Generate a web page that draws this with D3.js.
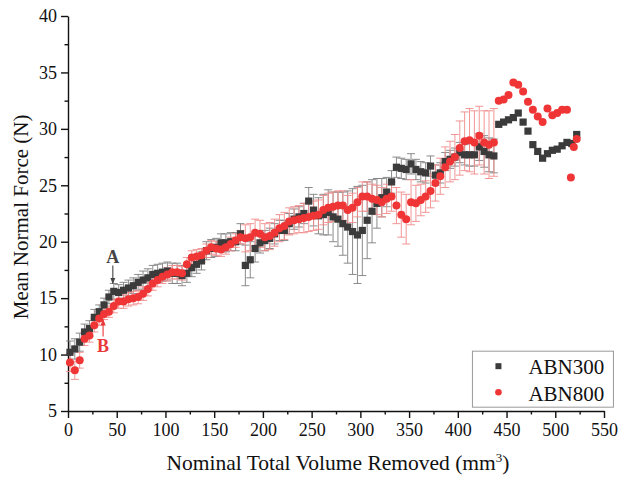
<!DOCTYPE html>
<html>
<head>
<meta charset="utf-8">
<script src="https://cdn.jsdelivr.net/npm/d3@7"></script>
<style>
  body { margin: 0; background: #fff; }
  svg, svg text { font-family: "Liberation Serif", "Times New Roman", serif; }
</style>
</head>
<body>
<figure id="chart" style="margin:0"></figure>
<script>
// ABN300 (squares)
const vol300 = [2,7,12,17,22,27,32,37,42,47,52,57,62,67,72,77,82,87,92,97,102,107,112,117,122,127,132,137,142,147,152,157,162,167,172,177,182,187,192,197,202,207,212,217,222,227,232,237,242,247,252,257,262,267,272,277,282,287,292,297,302,307,312,317,322,327,332,337,342,347,352,357,362,367,372,377,382,387,392,397,402,407,412,417,422,427,432,437,442,447,452,457,462,467,472,477,482,487,492,497,502,507,512,517,522];
const force300 = [10.2,10.5,11.1,12.0,12.3,13.3,13.8,14.4,15.1,15.6,15.5,15.7,15.9,16.1,16.4,16.6,16.8,17.1,17.2,17.3,17.4,17.2,17.2,17.0,17.2,17.7,18.0,18.3,19.2,19.4,19.5,19.9,19.9,20.0,20.0,20.7,17.9,18.4,19.4,19.9,20.1,20.3,20.7,21.0,21.0,21.6,22.0,22.2,22.5,23.6,22.8,22.3,22.4,22.6,22.2,22.0,21.6,21.3,20.9,20.6,21.0,21.9,22.7,23.4,23.9,24.4,25.3,26.6,26.5,26.4,26.9,26.4,26.2,26.1,26.7,25.9,26.1,27.1,27.3,27.5,27.9,27.7,27.7,27.7,28.4,28.0,27.7,27.6,30.4,30.6,30.8,31.0,31.4,30.6,29.8,28.6,28.0,27.4,27.8,28.1,28.2,28.5,28.8,28.7,29.5];
const err300 = [1.0,0.9,0.8,0.7,0.7,0.7,0.6,0.6,0.6,0.7,0.7,0.7,0.7,0.7,0.7,0.8,0.8,0.8,0.8,0.8,0.8,0.9,0.9,0.9,0.8,0.8,0.8,0.8,0.8,0.8,0.8,0.8,0.8,0.8,0.8,0.9,1.8,1.6,1.2,0.9,0.9,0.9,0.9,0.9,0.9,0.9,0.9,0.9,0.9,1.2,1.4,1.6,1.8,2.0,2.2,2.4,2.8,3.2,3.8,4.3,4.0,3.4,2.8,2.2,1.7,1.3,1.0,0.9,0.9,0.9,0.9,0.9,0.9,0.9,0.9,0.9,0.9,0.8,0.8,0.8,0.9,0.9,1.0,1.0,1.2,1.4,1.5,1.5,0,0,0,0,0,0,0,0,0,0,0,0,0,0,0,0,0];

// ABN800 (circles)
const vol800 = [2,7,12,17,22,27,32,37,42,47,52,57,62,67,72,77,82,87,92,97,102,107,112,117,122,127,132,137,142,147,152,157,162,167,172,177,182,187,192,197,202,207,212,217,222,227,232,237,242,247,252,257,262,267,272,277,282,287,292,297,302,307,312,317,322,327,332,337,342,347,352,357,362,367,372,377,382,387,392,397,402,407,412,417,422,427,432,437,442,447,452,457,462,467,472,477,482,487,492,497,502,507,512,516,519,522];
const force800 = [9.3,8.6,9.5,11.4,11.7,12.6,13.2,13.6,13.8,14.3,14.7,14.7,14.9,15.0,15.1,15.4,15.8,16.3,16.6,16.9,17.1,17.3,17.3,17.2,18.0,18.6,18.7,18.8,19.2,19.5,19.4,19.3,19.5,19.8,20.1,20.4,20.3,20.4,20.8,20.7,20.4,20.5,20.8,21.2,21.4,21.8,21.9,22.0,22.1,22.2,22.3,22.4,22.8,23.0,23.1,23.2,23.2,22.8,23.0,23.5,24.0,24.0,23.8,23.7,23.5,23.8,24.0,23.2,22.4,22.0,23.5,23.4,23.7,24.0,24.5,25.2,25.8,26.6,27.1,27.5,28.3,28.9,29.0,28.8,29.4,28.8,28.6,28.8,32.5,32.6,33.0,34.1,33.9,33.3,32.4,31.7,31.1,30.6,31.8,31.2,31.4,31.7,31.7,25.7,28.4,29.1];
const err800 = [0.8,0.8,0.7,0.6,0.6,0.6,0.6,0.5,0.5,0.6,0.6,0.6,0.6,0.6,0.6,0.6,0.6,0.6,0.6,0.6,0.6,0.6,0.6,0.6,0.6,0.6,0.6,0.6,0.6,0.6,0.6,0.6,0.6,0.6,0.6,0.6,1.2,1.2,1.2,1.2,1.2,1.2,1.2,1.2,1.2,1.2,1.2,1.2,1.3,1.3,1.3,1.3,1.3,1.3,1.3,1.3,1.3,1.3,1.3,1.3,1.3,1.3,1.3,1.3,1.3,1.3,1.3,1.6,2.0,2.2,2.0,1.6,1.4,1.4,1.5,1.6,1.6,1.8,1.8,2.0,2.4,2.6,2.8,2.8,2.6,2.8,3.0,3.0,0,0,0,0,0,0,0,0,0,0,0,0,0,0,0,0,0,0];

const xTicks = [0,50,100,150,200,250,300,350,400,450,500,550];
const yTicks = [5,10,15,20,25,30,35,40];
const seriesNames = ["ABN300", "ABN800"];

const FONT = '"Liberation Serif", "Times New Roman", serif';
const W = 631, H = 479;
const margin = { left: 68, right: 27, top: 16, bottom: 68 };
const width = W - margin.left - margin.right;
const height = H - margin.top - margin.bottom;

const svg = d3.select("figure#chart").append("svg")
  .attr("width", W).attr("height", H)
  .append("g")
  .attr("transform", "translate(" + margin.left + "," + margin.top + ")");

const x = d3.scaleLinear().domain([0, 550]).range([0, width]);
const y = d3.scaleLinear().domain([5, 40]).range([height, 0]);

// axes: major + minor ticks, outward
function minor(ticks) {
  const out = [];
  for (let i = 0; i < ticks.length - 1; i++) out.push((ticks[i] + ticks[i + 1]) / 2);
  return out;
}

svg.append("g")
  .attr("transform", "translate(0," + height + ")")
  .call(d3.axisBottom(x).tickValues(minor(xTicks)).tickSize(3.5).tickFormat(""))
  .call(g => g.select(".domain").remove());
const xAxis = svg.append("g")
  .attr("transform", "translate(0," + height + ")")
  .call(d3.axisBottom(x).tickValues(xTicks).tickSize(7).tickSizeOuter(0).tickPadding(5));

svg.append("g")
  .call(d3.axisLeft(y).tickValues(minor(yTicks)).tickSize(3.5).tickFormat(""))
  .call(g => g.select(".domain").remove());
const yAxis = svg.append("g")
  .call(d3.axisLeft(y).tickValues(yTicks).tickSize(7).tickSizeOuter(0).tickPadding(4));

svg.selectAll("g").attr("font-family", FONT);
xAxis.selectAll("text").attr("font-size", 18).attr("fill", "#111");
yAxis.selectAll("text").attr("font-size", 18).attr("fill", "#111");
svg.selectAll(".domain, .tick line").attr("stroke", "#111").attr("stroke-width", 1.4);

// axis titles
svg.append("text")
  .attr("x", width / 2 + 2)
  .attr("y", height + 59)
  .attr("text-anchor", "middle")
  .attr("font-family", FONT)
  .attr("font-size", 21.5)
  .attr("fill", "#111")
  .html('Nominal Total Volume Removed (mm<tspan dy="-8" font-size="13px">3</tspan><tspan dy="8">)</tspan>');

svg.append("text")
  .attr("transform", "rotate(-90)")
  .attr("x", -(y(22.2)))
  .attr("y", -40)
  .attr("text-anchor", "middle")
  .attr("font-family", FONT)
  .attr("font-size", 21)
  .attr("fill", "#111")
  .text("Mean Normal Force (N)");

const d300 = vol300.map((v, i) => ({ v: v, f: force300[i], e: err300[i] }));
const d800 = vol800.map((v, i) => ({ v: v, f: force800[i], e: err800[i] }));

// error bars
function errorBars(data, color) {
  const g = svg.append("g").attr("stroke", color).attr("stroke-width", 0.9).attr("fill", "none");
  const withErr = data.filter(d => d.e > 0);
  g.selectAll("path")
    .data(withErr)
    .join("path")
    .attr("d", d => `
      M${x(d.v)},${y(d.f + d.e)} V${y(d.f - d.e)}
      M${x(d.v) - 4},${y(d.f + d.e)} H${x(d.v) + 4}
      M${x(d.v) - 4},${y(d.f - d.e)} H${x(d.v) + 4}
    `);
}
errorBars(d300, "#7e7e7e");
errorBars(d800, "#f08a8a");

// markers
svg.append("g")
  .selectAll("rect")
  .data(d300)
  .join("rect")
  .attr("x", d => x(d.v) - 3.6)
  .attr("y", d => y(d.f) - 3.6)
  .attr("width", 7.2)
  .attr("height", 7.2)
  .style("fill", "#3b3b3b");

svg.append("g")
  .selectAll("circle")
  .data(d800)
  .join("circle")
  .attr("cx", d => x(d.v))
  .attr("cy", d => y(d.f))
  .attr("r", 4)
  .style("fill", "#ef3535");

// annotations A and B
const annA = { v: 46, label: "A" };
const annB = { v: 36, label: "B" };
svg.append("defs").html(`
  <marker id="ahGray" viewBox="0 0 10 10" refX="9" refY="5" markerWidth="6" markerHeight="6" orient="auto">
    <path d="M0,1 L10,5 L0,9 Z" fill="#444"/></marker>
  <marker id="ahRed" viewBox="0 0 10 10" refX="9" refY="5" markerWidth="6" markerHeight="6" orient="auto">
    <path d="M0,1 L10,5 L0,9 Z" fill="#e83a3a"/></marker>`);

svg.append("text")
  .attr("x", x(annA.v)).attr("y", y(18.1))
  .attr("text-anchor", "middle")
  .attr("font-family", FONT)
  .attr("font-size", 18).attr("font-weight", "bold")
  .attr("fill", "#444").text(annA.label);
svg.append("line")
  .attr("x1", x(annA.v)).attr("x2", x(annA.v))
  .attr("y1", y(17.9)).attr("y2", y(16.3))
  .attr("stroke", "#444").attr("stroke-width", 1.1)
  .attr("marker-end", "url(#ahGray)");

svg.append("text")
  .attr("x", x(annB.v)).attr("y", y(10.2))
  .attr("text-anchor", "middle")
  .attr("font-family", FONT)
  .attr("font-size", 18).attr("font-weight", "bold")
  .attr("fill", "#e83a3a").text(annB.label);
svg.append("line")
  .attr("x1", x(annB.v)).attr("x2", x(annB.v))
  .attr("y1", y(11.6)).attr("y2", y(13.1))
  .attr("stroke", "#e83a3a").attr("stroke-width", 1.1)
  .attr("marker-end", "url(#ahRed)");

// legend
const legend = svg.append("g").attr("transform", "translate(" + (x(415)) + "," + (y(10.3)) + ")");
legend.append("rect")
  .attr("width", 141).attr("height", 56)
  .attr("fill", "#fff").attr("stroke", "#999").attr("stroke-width", 1);
legend.append("rect").attr("x", 23).attr("y", 12).attr("width", 6).attr("height", 6).style("fill", "#3b3b3b");
legend.append("circle").attr("cx", 26).attr("cy", 41).attr("r", 3.3).style("fill", "#ef3535");
legend.selectAll("text.lab")
  .data(seriesNames)
  .join("text")
  .attr("class", "lab")
  .attr("x", 56)
  .attr("y", (d, i) => 23 + i * 27)
  .attr("font-family", FONT)
  .attr("font-size", 21)
  .attr("fill", "#111")
  .text(d => d);
</script>
</body>
</html>
